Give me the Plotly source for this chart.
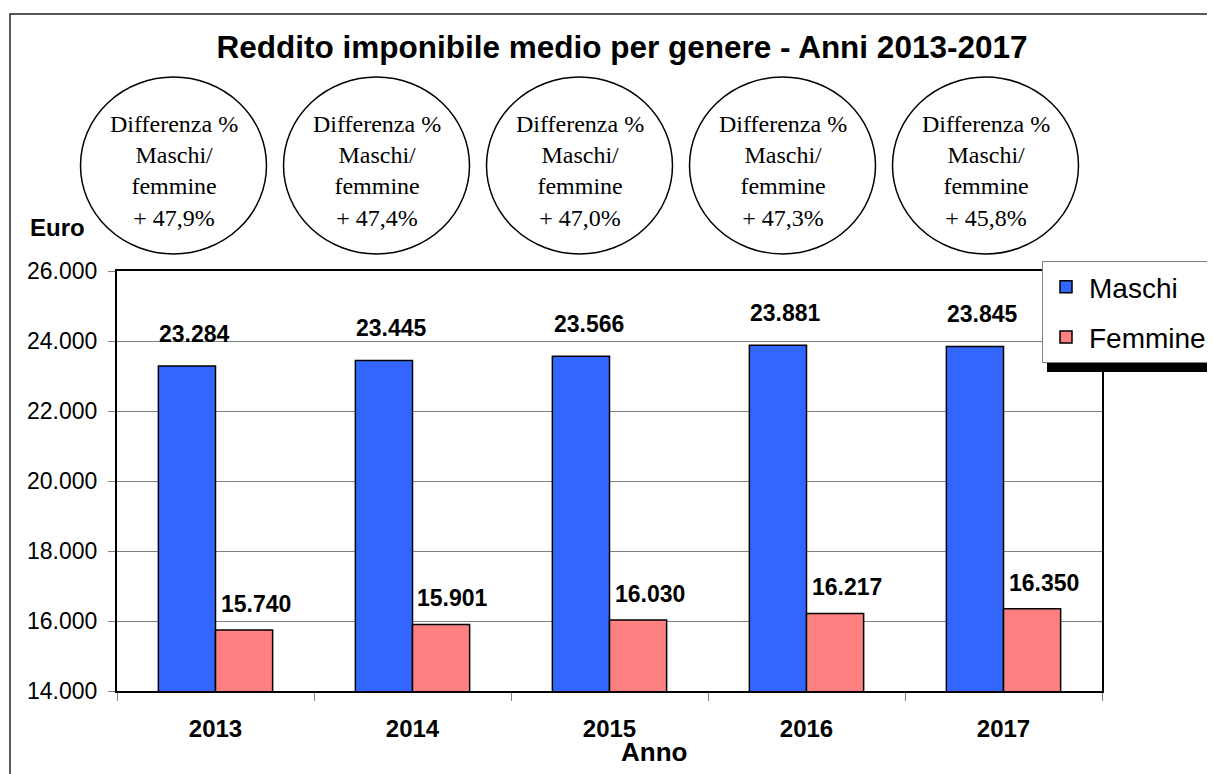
import plotly.graph_objects as go

anni = ["2013", "2014", "2015", "2016", "2017"]
maschi = [23284, 23445, 23566, 23881, 23845]
femmine = [15740, 15901, 16030, 16217, 16350]

BLU = "#3366FF"
ROSA = "#FF8080"
SANS = "Liberation Sans"
SERIF = "Liberation Serif"

W, H = 1215, 774
OFF = 8  # page body margin of the html
L, R, T, B = 117 - OFF, 1102 - OFF, 271 - OFF, 691 - OFF  # plot area in pixels


def px(x):
    return (x - OFF - L) / (R - L)


def py(y):
    return (B - (y - OFF)) / (B - T)


def punti(v):
    return f"{v:,}".replace(",", ".")


fig = go.Figure()
fig.add_trace(go.Bar(x=anni, y=maschi, name="Maschi", legendgroup="m",
                     marker=dict(color=BLU, line=dict(color="black", width=1.5))))
fig.add_trace(go.Bar(x=anni, y=femmine, name="Femmine", legendgroup="f",
                     marker=dict(color=ROSA, line=dict(color="black", width=1.5))))

annotations = []
# etichette dei valori
for i, (m, f) in enumerate(zip(maschi, femmine)):
    annotations.append(dict(x=i, y=m, text="<b>" + punti(m) + "</b>", showarrow=False,
                            xshift=-21, yshift=32, yanchor="middle",
                            font=dict(family=SANS, size=23, color="black")))
    annotations.append(dict(x=i, y=f, text="<b>" + punti(f) + "</b>", showarrow=False,
                            xshift=40, yshift=26, yanchor="middle",
                            font=dict(family=SANS, size=23, color="black")))

# cerchi con la differenza percentuale
shapes = []
for i, (m, f) in enumerate(zip(maschi, femmine)):
    cx = 173.5 + i * 203
    shapes.append(dict(type="circle", xref="paper", yref="paper",
                       x0=px(cx - 93), x1=px(cx + 93), y0=py(254), y1=py(77),
                       line=dict(color="black", width=1.5), fillcolor="white",
                       layer="above"))
    diff = f"{(m / f - 1) * 100:.1f}".replace(".", ",")
    annotations.append(dict(xref="paper", yref="paper", x=px(cx), y=py(171),
                            text=f"Differenza %<br>Maschi/<br>femmine<br>+ {diff}%",
                            showarrow=False, xanchor="center", yanchor="middle",
                            font=dict(family=SERIF, size=24, color="black")))

annotations.append(dict(xref="paper", yref="paper", x=px(57), y=py(228), text="<b>Euro</b>",
                        showarrow=False, xanchor="center", yanchor="middle",
                        font=dict(family=SANS, size=24, color="black")))
annotations.append(dict(xref="paper", yref="paper", x=px(654), y=py(752), text="<b>Anno</b>",
                        showarrow=False, xanchor="center", yanchor="middle",
                        font=dict(family=SANS, size=26, color="black")))

# cornice esterna e ombra della legenda
shapes.append(dict(type="rect", xref="paper", yref="paper",
                   x0=px(10), x1=px(1260), y0=py(820), y1=py(14),
                   line=dict(color="#222222", width=1.5), layer="above"))
shapes.append(dict(type="rect", xref="paper", yref="paper",
                   x0=px(1047), x1=px(1260), y0=py(372), y1=py(270),
                   line=dict(width=0), fillcolor="black", layer="above"))

fig.update_layout(
    width=W, height=H,
    margin=dict(l=L, r=W - R, t=T, b=H - B, autoexpand=False),
    paper_bgcolor="white", plot_bgcolor="white",
    separators=",.",
    barmode="group", bargap=0.42, bargroupgap=0,
    title=dict(text="<b>Reddito imponibile medio per genere - Anni 2013-2017</b>",
               x=(622 - OFF) / W, y=1 - (47 - OFF) / H, xanchor="center", yanchor="middle",
               font=dict(family=SANS, size=31.5, color="black")),
    xaxis=dict(type="category", range=[-0.5, 4.5], showgrid=False, showline=True,
               linecolor="black", linewidth=2, mirror=True, ticks="outside",
               tickson="boundaries", ticklen=8, tickcolor="#808080", tickangle=0,
               ticklabelstandoff=15,
               tickfont=dict(family=SANS, size=24, color="black", weight="bold")),
    yaxis=dict(range=[14000, 26000], dtick=2000, tickformat=",d",
               showgrid=True, gridcolor="#808080", gridwidth=1,
               showline=True, linecolor="black", linewidth=2, mirror=True,
               ticks="outside", ticklen=7, tickcolor="#808080",
               ticklabelstandoff=6, zeroline=False,
               tickfont=dict(family=SANS, size=23, color="black")),
    legend=dict(x=px(1042), y=py(261), xanchor="left", yanchor="top",
                bgcolor="white", bordercolor="#808080", borderwidth=1,
                font=dict(family=SANS, size=28, color="black"),
                itemwidth=36, tracegroupgap=11, traceorder="grouped"),
    shapes=shapes,
    annotations=annotations,
    showlegend=True,
)

fig.write_html("out.html")
